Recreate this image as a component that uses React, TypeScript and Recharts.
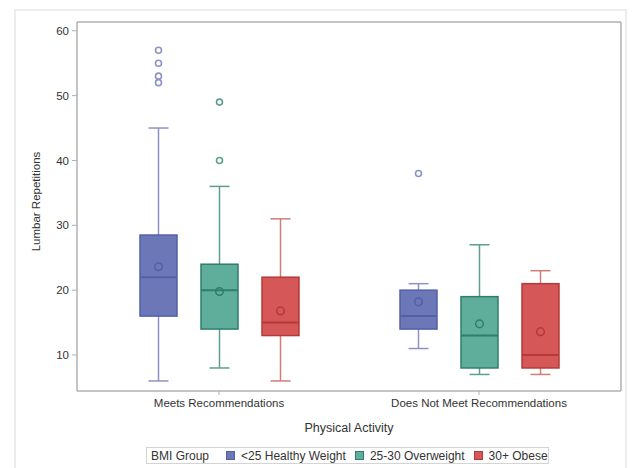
import React from 'react';
import { ComposedChart, Bar, XAxis, YAxis, Legend } from 'recharts';

const categories = ['Meets Recommendations', 'Does Not Meet Recommendations'];
const groupNames = ['<25 Healthy Weight', '25-30 Overweight', '30+ Obese'];
const yTicks = [10, 20, 30, 40, 50, 60];

// <25 Healthy Weight
const healthyMin = [6, 11];
const healthyQ1 = [16, 14];
const healthyMedian = [22, 16];
const healthyQ3 = [28.5, 20];
const healthyMax = [45, 21];
const healthyMean = [23.6, 18.2];
const healthyOutliers = [[57, 55, 53, 52], [38]];

// 25-30 Overweight
const overMin = [8, 7];
const overQ1 = [14, 8];
const overMedian = [20, 13];
const overQ3 = [24, 19];
const overMax = [36, 27];
const overMean = [19.8, 14.8];
const overOutliers = [[49, 40], []];

// 30+ Obese
const obeseMin = [6, 7];
const obeseQ1 = [13, 8];
const obeseMedian = [15, 10];
const obeseQ3 = [22, 21];
const obeseMax = [31, 23];
const obeseMean = [16.8, 13.6];
const obeseOutliers = [[], []];

const fills = ['#6B77B7', '#5FAD9B', '#D55757'];
const borders = ['#5360A6', '#2F7E6C', '#B43A3A'];
const whiskers = ['#8C92C6', '#5E9E91', '#D07C77'];

const keys = ['healthy', 'over', 'obese'];
const stats = [
  { min: healthyMin, q1: healthyQ1, med: healthyMedian, q3: healthyQ3, max: healthyMax, mean: healthyMean, out: healthyOutliers },
  { min: overMin, q1: overQ1, med: overMedian, q3: overQ3, max: overMax, mean: overMean, out: overOutliers },
  { min: obeseMin, q1: obeseQ1, med: obeseMedian, q3: obeseQ3, max: obeseMax, mean: obeseMean, out: obeseOutliers },
];

const data = categories.map((c, i) => {
  const row: any = { category: c };
  keys.forEach((k, g) => {
    const s = stats[g];
    row[k] = [s.min[i], s.max[i]];
    row[k + 'Stats'] = { min: s.min[i], q1: s.q1[i], med: s.med[i], q3: s.q3[i], max: s.max[i], mean: s.mean[i], out: s.out[i] };
  });
  return row;
});

const makeShape = (g: number) => (props: any) => {
  const { x, y, width, height, payload } = props;
  const s = payload[keys[g] + 'Stats'];
  const k = height / (s.max - s.min);
  const py = (v: number) => y + (s.max - v) * k;
  const cx = x + width / 2;
  const cap = width * 0.27;
  return (
    <g>
      <line x1={cx} x2={cx} y1={py(s.max)} y2={py(s.q3)} stroke={whiskers[g]} strokeWidth={1.5} />
      <line x1={cx} x2={cx} y1={py(s.q1)} y2={py(s.min)} stroke={whiskers[g]} strokeWidth={1.5} />
      <line x1={cx - cap} x2={cx + cap} y1={py(s.max)} y2={py(s.max)} stroke={whiskers[g]} strokeWidth={1.5} />
      <line x1={cx - cap} x2={cx + cap} y1={py(s.min)} y2={py(s.min)} stroke={whiskers[g]} strokeWidth={1.5} />
      <rect x={x} y={py(s.q3)} width={width} height={py(s.q1) - py(s.q3)} fill={fills[g]} stroke={borders[g]} strokeWidth={1.5} />
      <line x1={x} x2={x + width} y1={py(s.med)} y2={py(s.med)} stroke={borders[g]} strokeWidth={2} />
      <circle cx={cx} cy={py(s.mean)} r={3.8} fill="none" stroke={borders[g]} strokeWidth={1.5} />
      {s.out.map((v: number, j: number) => (
        <circle key={j} cx={cx} cy={py(v)} r={3} fill="none" stroke={whiskers[g]} strokeWidth={1.6} />
      ))}
    </g>
  );
};

const LegendContent = () => (
  <div
    style={{
      boxSizing: 'border-box',
      width: 403,
      height: 17,
      border: '1px solid #d4d4d4',
      display: 'flex',
      alignItems: 'center',
      fontSize: 12,
      color: '#333',
      paddingLeft: 4,
      whiteSpace: 'nowrap',
      background: '#fff',
    }}
  >
    <span style={{ marginRight: 17 }}>BMI Group</span>
    {groupNames.map((n, i) => (
      <span key={n} style={{ display: 'flex', alignItems: 'center', marginRight: 9 }}>
        <span style={{ display: 'inline-block', width: 7, height: 7, background: fills[i], border: `1px solid ${borders[i]}`, marginRight: 6 }} />
        <span>{n}</span>
      </span>
    ))}
  </div>
);

const YLabel = (props: any) => {
  const vb = props.viewBox;
  const cx = vb.x + vb.width / 2 - 2.5;
  const cy = vb.y + vb.height / 2 - 5;
  return (
    <text x={cx} y={cy} transform={`rotate(-90 ${cx} ${cy})`} textAnchor="middle" dominantBaseline="central" fontSize={11.5} fill="#333">
      Lumbar Repetitions
    </text>
  );
};

const frameLine = { stroke: '#b0b0b0', strokeWidth: 1.5 };

export default function App() {
  return (
    <div style={{ position: 'relative', width: 632, height: 468, fontFamily: '"Liberation Sans", Arial, sans-serif', background: '#fff', overflow: 'hidden' }}>
      <style>{'body{margin:0;}'}</style>
      <div style={{ position: 'absolute', left: 14, top: 9, width: 613, height: 480, border: '2px solid #ececec', boxSizing: 'border-box' }} />
      <ComposedChart
        width={632}
        height={468}
        data={data}
        margin={{ top: 21, right: 10, bottom: 0, left: 0 }}
        barSize={37}
        barGap={24}
        style={{ position: 'absolute', left: 0, top: 0 }}
      >
        <XAxis
          dataKey="category"
          type="category"
          height={77}
          padding={{ left: 12, right: 12 }}
          axisLine={frameLine}
          tickLine={{ stroke: '#b0b0b0' }}
          tickSize={4}
          tickMargin={4}
          tick={{ fontSize: 11.5, fill: '#333' }}
          label={{ value: 'Physical Activity', position: 'insideBottom', offset: 36, fontSize: 12.5, fill: '#333' }}
        />
        <XAxis
          xAxisId="top"
          orientation="top"
          dataKey="category"
          height={1}
          padding={{ left: 12, right: 12 }}
          tick={false}
          tickLine={false}
          axisLine={frameLine}
        />
        <YAxis
          width={77}
          type="number"
          domain={[4.45, 61.35]}
          ticks={yTicks}
          allowDataOverflow
          axisLine={frameLine}
          tickLine={{ stroke: '#b0b0b0' }}
          tickSize={5}
          tickMargin={3}
          tick={{ fontSize: 11.5, fill: '#333' }}
          label={<YLabel />}
        />
        <YAxis
          yAxisId="right"
          orientation="right"
          type="number"
          width={1}
          domain={[4.45, 61.35]}
          ticks={yTicks}
          allowDataOverflow
          tick={false}
          tickLine={false}
          axisLine={frameLine}
        />
        <Legend
          layout="horizontal"
          verticalAlign="middle"
          align="center"
          wrapperStyle={{ position: 'absolute', left: 146, top: 447, width: 403, height: 17 }}
          content={<LegendContent />}
        />
        {keys.map((k, g) => (
          <Bar key={k} dataKey={k} name={groupNames[g]} fill={fills[g]} shape={makeShape(g)} isAnimationActive={false} />
        ))}
      </ComposedChart>
    </div>
  );
}
